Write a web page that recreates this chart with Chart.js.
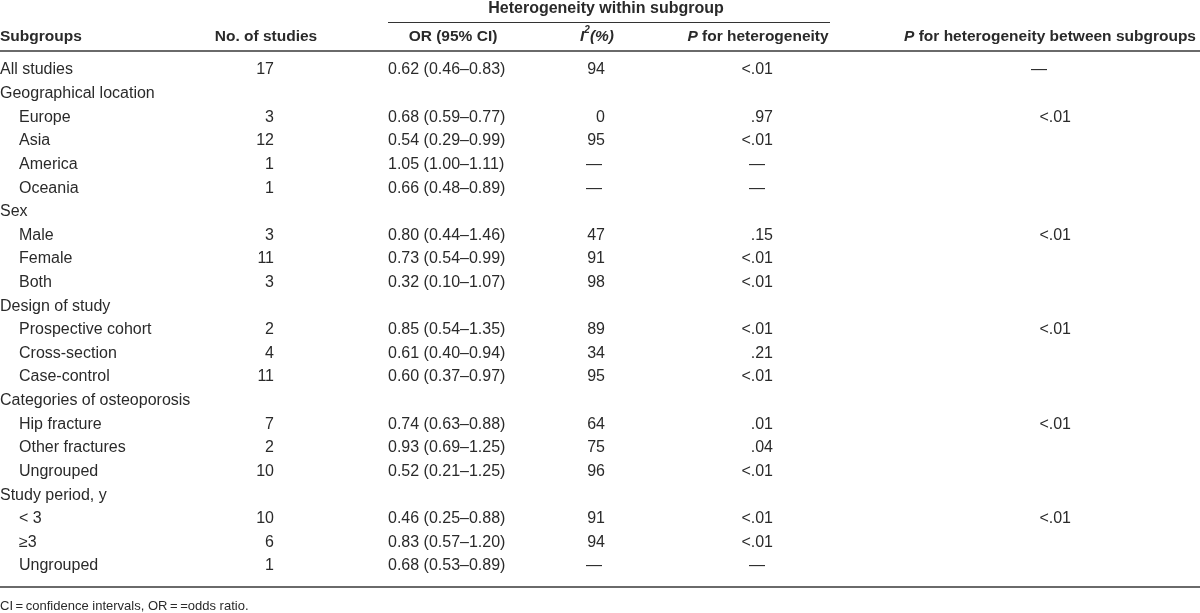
<!DOCTYPE html>
<html>
<head>
<meta charset="utf-8">
<script src="https://cdn.jsdelivr.net/npm/chart.js@4.4.1/dist/chart.umd.min.js"></script>
<style>
  html, body { margin: 0; padding: 0; background: #fff; }
  #wrap { width: 1200px; height: 613px; position: relative; }
</style>
</head>
<body>
<div id="wrap"><canvas id="tbl"></canvas></div>
<script>
// table data
const rowLabels = ["All studies", "Geographical location", "Europe", "Asia", "America", "Oceania",
    "Sex", "Male", "Female", "Both", "Design of study", "Prospective cohort", "Cross-section",
    "Case-control", "Categories of osteoporosis", "Hip fracture", "Other fractures", "Ungrouped",
    "Study period, y", "< 3", "\u22653", "Ungrouped"];
const rowIndent = [0, 0, 1, 1, 1, 1, 0, 1, 1, 1, 0, 1, 1, 1, 0, 1, 1, 1, 0, 1, 1, 1];
const nStudies = ["17", null, "3", "12", "1", "1", null, "3", "11", "3", null, "2", "4", "11",
    null, "7", "2", "10", null, "10", "6", "1"];
const orCI = ["0.62 (0.46\u20130.83)", null, "0.68 (0.59\u20130.77)", "0.54 (0.29\u20130.99)",
    "1.05 (1.00\u20131.11)", "0.66 (0.48\u20130.89)", null, "0.80 (0.44\u20131.46)",
    "0.73 (0.54\u20130.99)", "0.32 (0.10\u20131.07)", null, "0.85 (0.54\u20131.35)",
    "0.61 (0.40\u20130.94)", "0.60 (0.37\u20130.97)", null, "0.74 (0.63\u20130.88)",
    "0.93 (0.69\u20131.25)", "0.52 (0.21\u20131.25)", null, "0.46 (0.25\u20130.88)",
    "0.83 (0.57\u20131.20)", "0.68 (0.53\u20130.89)"];
const iSquared = ["94", null, "0", "95", "\u2014", "\u2014", null, "47", "91", "98", null,
    "89", "34", "95", null, "64", "75", "96", null, "91", "94", "\u2014"];
const pHet = ["<.01", null, ".97", "<.01", "\u2014", "\u2014", null, ".15", "<.01", "<.01", null,
    "<.01", ".21", "<.01", null, ".01", ".04", "<.01", null, "<.01", "<.01", "\u2014"];
const pBetween = ["\u2014", null, "<.01", null, null, null, null, "<.01", null, null, null,
    "<.01", null, null, null, "<.01", null, null, null, "<.01", null, null];

const groupTitle = "Heterogeneity within subgroup";
const footnote = "CI\u2009=\u2009confidence intervals, OR\u2009=\u2009=odds ratio.";

// layout (x in px units of the x scale, y in row units)
const FONT = "'Liberation Sans', Arial, sans-serif";
const SIZE = 16;
const HEAD_SIZE = 15.5;
const TEXT = "#2a2a2a";
const Y_TITLE = -2.6, Y_TITLE_LINE = -2.05, Y_HEAD = -1.42, Y_HEAD_LINE = -0.8;
const Y_BOTTOM = 21.9, Y_FOOT = 22.7;

const columns = [
    { values: rowLabels, x: 0, align: "left" },
    { values: nStudies, x: 274, align: "right" },
    { values: orCI, x: 388, align: "left" },
    { values: iSquared, x: 605, align: "right", dashX: 594 },
    { values: pHet, x: 773, align: "right", dashX: 757 },
    { values: pBetween, x: 1071, align: "right", dashX: 1039 }
];

const headers = [
    { x: 0, align: "left", runs: [{ t: "Subgroups" }] },
    { x: 266, align: "center", runs: [{ t: "No. of studies" }] },
    { x: 453, align: "center", runs: [{ t: "OR (95% CI)" }] },
    { x: 597, align: "center", runs: [{ t: "I", it: true }, { t: "2", it: true, sup: true }, { t: "(%)", it: true }] },
    { x: 758, align: "center", runs: [{ t: "P", it: true }, { t: " for heterogeneity" }] },
    { x: 1050, align: "center", runs: [{ t: "P", it: true }, { t: " for heterogeneity between subgroups" }] }
];

function runFont(r, bold) {
    const sz = r.sup ? 10 : HEAD_SIZE;
    return (r.it ? "italic " : "") + (bold ? "bold " : "") + sz + "px " + FONT;
}

function drawRuns(ctx, runs, x, y, align, bold) {
    let total = 0;
    runs.forEach(r => { ctx.font = runFont(r, bold); total += ctx.measureText(r.t).width; });
    let cx = align === "center" ? x - total / 2 : align === "right" ? x - total : x;
    ctx.textAlign = "left";
    runs.forEach(r => {
        ctx.font = runFont(r, bold);
        ctx.fillText(r.t, cx, r.sup ? y - 6 : y);
        cx += ctx.measureText(r.t).width;
    });
}

const tablePlugin = {
    id: "tableText",
    afterDatasetsDraw(chart) {
        const { ctx, scales: { x, y } } = chart;
        ctx.save();
        ctx.fillStyle = TEXT;
        ctx.textBaseline = "middle";

        // cells
        chart.data.datasets.forEach((ds, i) => {
            const meta = chart.getDatasetMeta(i);
            meta.data.forEach((pt, j) => {
                const raw = ds.data[j];
                ctx.font = SIZE + "px " + FONT;
                if (raw.text === "\u2014") {
                    ctx.textAlign = "center";
                    ctx.fillText(raw.text, x.getPixelForValue(ds.dashX), pt.y);
                } else {
                    ctx.textAlign = ds.align;
                    ctx.fillText(raw.text, pt.x, pt.y);
                }
            });
        });

        // headers
        ctx.font = "bold 16px " + FONT;
        ctx.textAlign = "center";
        ctx.fillText(groupTitle, x.getPixelForValue(606), y.getPixelForValue(Y_TITLE));
        headers.forEach(h => drawRuns(ctx, h.runs, x.getPixelForValue(h.x), y.getPixelForValue(Y_HEAD), h.align, true));

        // rules
        ctx.strokeStyle = "#333";
        ctx.lineWidth = 1;
        ctx.beginPath();
        const yt = Math.round(y.getPixelForValue(Y_TITLE_LINE)) + 0.5;
        ctx.moveTo(x.getPixelForValue(388), yt);
        ctx.lineTo(x.getPixelForValue(830), yt);
        ctx.stroke();
        ctx.strokeStyle = "#6a6a6a";
        ctx.lineWidth = 2;
        [Y_HEAD_LINE, Y_BOTTOM].forEach(v => {
            const yy = Math.round(y.getPixelForValue(v));
            ctx.beginPath();
            ctx.moveTo(x.getPixelForValue(0), yy);
            ctx.lineTo(x.getPixelForValue(1200), yy);
            ctx.stroke();
        });

        // footnote
        ctx.fillStyle = TEXT;
        ctx.font = "13px " + FONT;
        ctx.textAlign = "left";
        ctx.fillText(footnote, x.getPixelForValue(0), y.getPixelForValue(Y_FOOT));
        ctx.restore();
    }
};

const datasets = columns.map((col, c) => ({
    label: "col" + c,
    align: col.align,
    dashX: col.dashX,
    pointRadius: 0,
    data: col.values
        .map((v, r) => v === null ? null : { x: c === 0 ? col.x + rowIndent[r] * 19 : col.x, y: r, text: v })
        .filter(Boolean)
}));

new Chart(document.getElementById("tbl"), {
    type: "scatter",
    data: { datasets },
    options: {
        responsive: true,
        maintainAspectRatio: false,
        animation: false,
        layout: { padding: 0 },
        plugins: { legend: { display: false }, tooltip: { enabled: false } },
        scales: {
            x: { type: "linear", display: false, min: 0, max: 1200 },
            y: { type: "linear", display: false, reverse: true, min: -2.964, max: 22.989 }
        }
    },
    plugins: [tablePlugin]
});
</script>
</body>
</html>
